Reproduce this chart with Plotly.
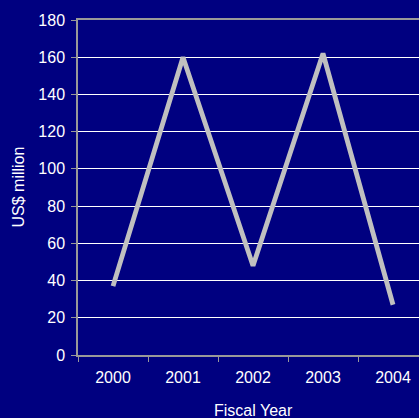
import plotly.graph_objects as go

years = ["2000", "2001", "2002", "2003", "2004"]
values = [37, 160, 48, 162, 27]
y_ticks = [0, 20, 40, 60, 80, 100, 120, 140, 160, 180]

W, H = 419, 418
L, T, B, R = 78, 20, 63, 0
cat_px = 70.0
plot_w = W - L - R
plot_h = H - T - B

fig = go.Figure()
fig.add_trace(go.Scatter(
    x=years, y=values, mode="lines",
    line=dict(color="#C0C0C0", width=4.8),
    hoverinfo="skip", showlegend=False,
))

fam = "Liberation Sans, Arial, sans-serif"
font = dict(family=fam, color="#FFFFFF")

fig.update_layout(
    width=W, height=H,
    margin=dict(l=L, r=R, t=T, b=B, pad=0),
    paper_bgcolor="#000080",
    plot_bgcolor="#000080",
    font=font,
    xaxis=dict(
        type="category",
        range=[-0.5, -0.5 + plot_w / cat_px],
        showgrid=False,
        showline=True, linecolor="#999999", linewidth=1.5, mirror=True,
        ticks="outside", tickson="boundaries", ticklen=5, tickcolor="#999999",
        tickfont=dict(size=16, color="#FFFFFF", family=fam),
        ticklabelstandoff=7,
        zeroline=False,
    ),
    yaxis=dict(
        range=[0, 180],
        tickvals=y_ticks,
        showgrid=True, gridcolor="#FFFFFF", gridwidth=1,
        showline=True, linecolor="#999999", linewidth=1.5,
        ticks="outside", ticklen=5, tickcolor="#999999",
        tickfont=dict(size=16, color="#FFFFFF", family=fam),
        ticklabelstandoff=3,
        zeroline=False,
    ),
    annotations=[
        dict(text="Fiscal Year", xref="paper", yref="paper",
             x=(253 - L) / plot_w, y=(H - B - 410) / plot_h,
             xanchor="center", yanchor="middle", showarrow=False,
             font=dict(size=16, color="#FFFFFF", family=fam)),
        dict(text="US$ million", xref="paper", yref="paper",
             x=(18 - L) / plot_w, y=0.5, textangle=-90,
             xanchor="center", yanchor="middle", showarrow=False,
             font=dict(size=16, color="#FFFFFF", family=fam)),
    ],
)

fig.write_html("out.html")
